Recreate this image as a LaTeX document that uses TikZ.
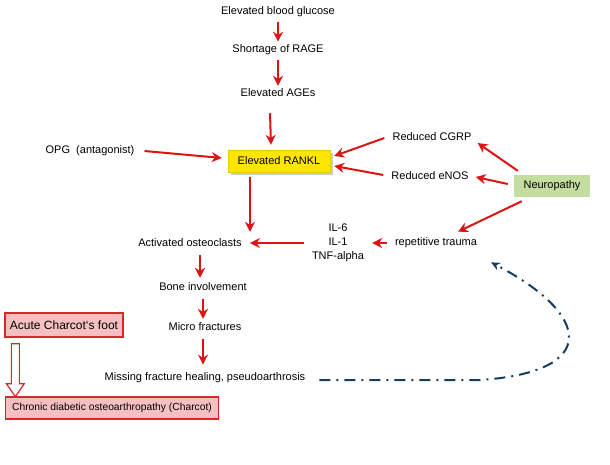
\documentclass[tikz,border=0pt]{standalone}
\usepackage{fontspec}
\setmainfont{Liberation Sans}
\usetikzlibrary{arrows.meta,calc,shapes.arrows,shadows}
\begin{document}
\begin{tikzpicture}[x=1pt,y=-1pt,
  lbl/.style={font=\fontsize{11}{13}\selectfont, inner sep=2pt},
  rarr/.style={draw={rgb,255:red,220;green,20;blue,20}, line width=2pt, -{Stealth[length=10pt,width=10pt]}},
  pinkbox/.style={draw={rgb,255:red,215;green,40;blue,45}, line width=1.3pt, fill={rgb,255:red,246;green,192;blue,194}, inner sep=3pt}]
\useasboundingbox (0,0) rectangle (610,464);
\node[lbl] (bg) at (278,12) {Elevated blood glucose};
\node[lbl] (rage) at (278,50) {Shortage of RAGE};
\node[lbl] (ages) at (278,93) {Elevated AGEs};
\node[lbl, fill={rgb,255:red,255;green,230;blue,0}, draw={rgb,255:red,240;green,200;blue,0}, drop shadow={opacity=0.4}, minimum width=102pt, minimum height=22pt] (rankl) at (279,161) {Elevated RANKL};
\node[lbl] (opg) at (90,151) {OPG\ \ (antagonist)};
\node[lbl] (cgrp) at (432,137) {Reduced CGRP};
\node[lbl] (enos) at (430,176) {Reduced eNOS};
\node[lbl, fill={rgb,255:red,196;green,222;blue,160}, minimum width=76pt, minimum height=22pt] (neuro) at (552,186) {Neuropathy};
\node[lbl] (osteo) at (190,243) {Activated osteoclasts};
\node[lbl, align=center, font=\fontsize{11}{14}\selectfont] (il) at (338,243) {IL-6\\IL-1\\TNF-alpha};
\node[lbl] (trauma) at (436,243) {repetitive trauma};
\node[lbl] (bone) at (203,287) {Bone involvement};
\node[lbl] (micro) at (205,327) {Micro fractures};
\node[lbl] (miss) at (205,378) {Missing fracture healing, pseudoarthrosis};
\node[pinkbox, font=\fontsize{12}{14}\selectfont, minimum width=118pt, minimum height=24pt] (acute) at (64,325) {Acute Charcot`s foot};
\node[pinkbox, font=\fontsize{10.3}{12}\selectfont, minimum width=213pt, minimum height=22pt] (chronic) at (112,408) {Chronic diabetic osteoarthropathy (Charcot)};

\draw[rarr] ($(bg.south)+(0,3)$) -- ($(rage.north)+(0,-1)$);
\draw[rarr] ($(rage.south)+(0,3)$) -- ($(ages.north)+(0,-1)$);
\draw[rarr] ($(ages.south)+(-8,14)$) -- ($(rankl.north)+(-8,-5)$);
\draw[rarr] ($(opg.east)+(8,0)$) -- ($(rankl.west)+(-6,-3)$);
\draw[rarr] ($(cgrp.west)+(-6,1)$) -- ($(rankl.east)+(4,-5)$);
\draw[rarr] ($(enos.west)+(-6,-1)$) -- ($(rankl.east)+(4,5)$);
\draw[rarr] ($(neuro.north west)+(4,-4)$) -- ($(cgrp.east)+(4,6)$);
\draw[rarr] ($(neuro.west)+(-6,-2)$) -- ($(enos.east)+(5,1)$);
\draw[rarr] ($(neuro.south west)+(8,4)$) -- ($(trauma.north)+(22,-4)$);
\draw[rarr] ($(rankl.south)+(-29,5)$) -- ($(osteo.north)+(60,-5)$);
\draw[rarr] ($(trauma.west)+(-6,0)$) -- ($(il.east)+(6,0)$);
\draw[rarr] ($(il.west)+(-6,0)$) -- ($(osteo.east)+(6,0)$);
\draw[rarr] ($(osteo.south)+(10,6)$) -- ($(bone.north)+(-3,-3)$);
\draw[rarr] ($(bone.south)+(0,6)$) -- ($(micro.north)+(-2,-2)$);
\draw[rarr] ($(micro.south)+(-2,6)$) -- ($(miss.north)+(-2,-6)$);
\draw[draw={rgb,255:red,215;green,40;blue,45}, fill=white, line width=1.2pt]
  ($(acute.south west)+(7,6)$) -- ++(8,0) -- ++(0,40) -- ++(5,0) -- ++(-9,13) -- ++(-9,-13) -- ++(5,0) -- cycle;
\draw[draw={rgb,255:red,20;green,60;blue,95}, line width=2pt, dash pattern=on 11pt off 6pt on 2pt off 6pt, -{Stealth[length=9pt,width=8pt]}]
  ($(miss.east)+(12,2)$) -- (480,380) .. controls (600,372) and (592,315) .. ($(trauma.south)+(55,12)$);
\end{tikzpicture}
\end{document}
